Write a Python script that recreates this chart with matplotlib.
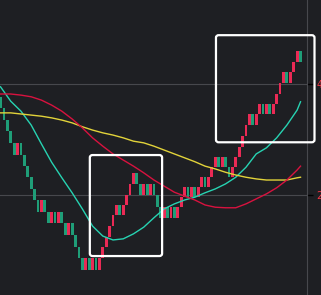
import matplotlib
matplotlib.use("Agg")
import matplotlib.pyplot as plt
from matplotlib.patches import FancyBboxPatch

# Brick open / close values (one per slot, left to right)
opens = [37.7, 35.7, 33.5, 31.5, 29.4, 27.2, 29.4, 27.2, 25.2, 23.2,
         21.1, 19.1, 16.9, 19.1, 16.9, 15.0, 16.9, 15.0, 16.9, 15.0,
         12.8, 15.0, 12.8, 10.6, 8.6, 6.5, 8.6, 6.5, 8.6, 6.5,
         8.6, 10.6, 12.4, 14.4, 16.4, 18.2, 16.4, 18.2, 20.0, 22.0,
         24.0, 22.0, 20.0, 22.0, 20.0, 22.0, 20.0, 17.8, 15.9, 17.8,
         15.9, 17.8, 15.9, 17.8, 19.6, 21.4, 19.6, 21.4, 19.6, 21.4,
         23.2, 21.4, 23.2, 25.0, 26.8, 25.0, 26.8, 25.0, 23.2, 25.0,
         26.8, 28.6, 30.6, 32.6, 34.6, 32.6, 34.6, 36.4, 34.6, 36.4,
         34.6, 36.4, 38.2, 40.2, 42.2, 40.2, 42.2, 44.0, 45.9]
closes = [35.7, 33.5, 31.5, 29.4, 27.2, 29.4, 27.2, 25.2, 23.2, 21.1,
          19.1, 16.9, 19.1, 16.9, 15.0, 16.9, 15.0, 16.9, 15.0, 12.8,
          15.0, 12.8, 10.6, 8.6, 6.5, 8.6, 6.5, 8.6, 6.5, 8.6,
          10.6, 12.4, 14.4, 16.4, 18.2, 16.4, 18.2, 20.0, 22.0, 24.0,
          22.0, 20.0, 22.0, 20.0, 22.0, 20.0, 17.8, 15.9, 17.8, 15.9,
          17.8, 15.9, 17.8, 19.6, 21.4, 19.6, 21.4, 19.6, 21.4, 23.2,
          21.4, 23.2, 25.0, 26.8, 25.0, 26.8, 25.0, 23.2, 25.0, 26.8,
          28.6, 30.6, 32.6, 34.6, 32.6, 34.6, 36.4, 34.6, 36.4, 34.6,
          36.4, 38.2, 40.2, 42.2, 40.2, 42.2, 44.0, 45.9, 44.0]

# Moving averages, read every third brick
ma_idx = [0, 3, 6, 9, 12, 15, 18, 21, 24, 27, 30, 33, 36, 39, 42, 45,
          48, 51, 54, 57, 60, 63, 66, 69, 72, 75, 78, 81, 84, 87, 88]
ma_fast = [39.5, 36.9, 35.1, 32.6, 29.2, 25.9, 23.1, 20.4, 17.5, 14.4,
           12.6, 11.9, 12.1, 13.0, 14.2, 15.9, 17.5, 18.4, 19.1, 19.6,
           20.4, 21.1, 22.0, 23.2, 25.0, 27.4, 28.5, 30.3, 32.6, 35.3, 36.8]
ma_mid = [34.8, 34.8, 34.6, 34.4, 34.2, 33.9, 33.5, 33.0, 32.3, 31.7,
          31.2, 30.8, 30.3, 29.7, 29.4, 28.8, 28.1, 27.4, 26.7, 26.0,
          25.2, 24.7, 24.1, 23.6, 23.2, 22.9, 22.7, 22.7, 22.7, 23.1, 23.2]
ma_slow = [38.2, 38.2, 38.0, 37.7, 37.1, 36.2, 35.1, 33.7, 32.1, 30.3,
           28.8, 27.4, 26.3, 25.2, 24.0, 22.7, 21.6, 20.5, 19.8, 19.1,
           18.2, 17.8, 17.7, 17.7, 18.4, 19.3, 20.2, 21.3, 22.7, 24.5, 25.2]

price_ticks = [40, 20]
price_labels = ["40.00", "20.00"]

BG = "#1e1f23"
UP = "#ea2a55"
DOWN = "#1f9e78"

fig = plt.figure(figsize=(3.21, 2.95), dpi=100, facecolor=BG)
ax = fig.add_axes([0, 0, 307 / 321, 1])
ax.set_facecolor(BG)

x = list(range(len(opens)))
heights = [c - o for o, c in zip(opens, closes)]
colors = [UP if c > o else DOWN for o, c in zip(opens, closes)]
ax.bar(x, heights, bottom=opens, width=0.82, color=colors, linewidth=0, zorder=2)

ax.plot(ma_idx, ma_fast, color="#27d3b2", linewidth=1.0, zorder=3)
ax.plot(ma_idx, ma_mid, color="#e2d33a", linewidth=1.0, zorder=3)
ax.plot(ma_idx, ma_slow, color="#d8123f", linewidth=1.0, zorder=3)

# highlight boxes
for (x0, x1, y0, y1) in [(26.2, 47.4, 9.0, 27.2), (63.2, 92.1, 29.5, 48.8)]:
    ax.add_patch(FancyBboxPatch((x0, y0), x1 - x0, y1 - y0,
                                boxstyle="round,pad=0,rounding_size=0.8",
                                fill=False, edgecolor="white", linewidth=1.6,
                                zorder=4, clip_on=False,
                                mutation_aspect=0.55))

ax.set_xlim(-0.15, 89.9)
ax.set_ylim(1.98, 55.14)

ax.set_xticks([])
ax.yaxis.tick_right()
ax.set_yticks(price_ticks)
ax.set_yticklabels(price_labels, color="#f23645", fontsize=7)
ax.tick_params(axis="y", length=4, width=1, color="black", pad=3)
ax.grid(True, axis="y", color="#47484d", linewidth=0.8, zorder=0)
for side in ["top", "left", "bottom"]:
    ax.spines[side].set_visible(False)
ax.spines["right"].set_color("#47484d")
ax.spines["right"].set_linewidth(0.8)

fig.savefig("out.png", dpi=100, facecolor=BG)
